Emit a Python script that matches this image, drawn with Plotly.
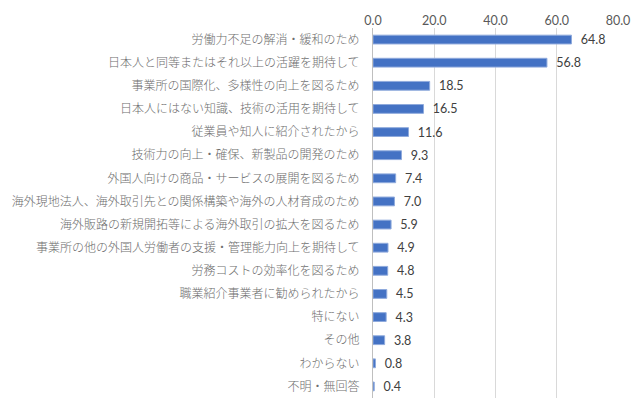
import plotly.graph_objects as go

categories = [
    "労働力不足の解消・緩和のため",
    "日本人と同等またはそれ以上の活躍を期待して",
    "事業所の国際化、多様性の向上を図るため",
    "日本人にはない知識、技術の活用を期待して",
    "従業員や知人に紹介されたから",
    "技術力の向上・確保、新製品の開発のため",
    "外国人向けの商品・サービスの展開を図るため",
    "海外現地法人、海外取引先との関係構築や海外の人材育成のため",
    "海外販路の新規開拓等による海外取引の拡大を図るため",
    "事業所の他の外国人労働者の支援・管理能力向上を期待して",
    "労務コストの効率化を図るため",
    "職業紹介事業者に勧められたから",
    "特にない",
    "その他",
    "わからない",
    "不明・無回答",
]
values = [64.8, 56.8, 18.5, 16.5, 11.6, 9.3, 7.4, 7.0, 5.9, 4.9, 4.8, 4.5, 4.3, 3.8, 0.8, 0.4]
x_ticks = [0, 20, 40, 60, 80]

fig = go.Figure(
    go.Bar(
        y=categories,
        x=values,
        orientation="h",
        marker=dict(color="#4472C4", line=dict(color="#8FAADC", width=1)),
        width=0.38,
        text=[f"{v:.1f}" for v in values],
        texttemplate="\u2002%{text}",
        textposition="outside",
        constraintext="none",
        textfont=dict(family="Lato, Noto Sans, sans-serif", size=12.5, color="#404040"),
        cliponaxis=False,
    )
)

fig.update_layout(
    width=640,
    height=408,
    margin=dict(l=373, r=20, t=28, b=10),
    paper_bgcolor="white",
    plot_bgcolor="white",
    showlegend=False,
    font=dict(family="Noto Sans CJK JP, Noto Sans, sans-serif", size=12, color="#666666"),
)
fig.update_xaxes(
    side="top",
    range=[0, 80],
    tickvals=x_ticks,
    ticktext=[f"{t:.1f}" for t in x_ticks],
    showgrid=True,
    gridcolor="#D9D9D9",
    gridwidth=1,
    zeroline=False,
    showline=False,
    ticks="",
    tickfont=dict(family="Lato, Noto Sans, sans-serif", size=12.5, color="#595959"),
)
fig.update_yaxes(
    autorange="reversed",
    showline=True,
    linecolor="#BFBFBF",
    linewidth=1,
    ticks="",
    ticklabelstandoff=10,
    tickfont=dict(family="Noto Sans CJK JP", size=12, color="#6E6E6E", weight=300),
)

fig.write_html("out.html")
